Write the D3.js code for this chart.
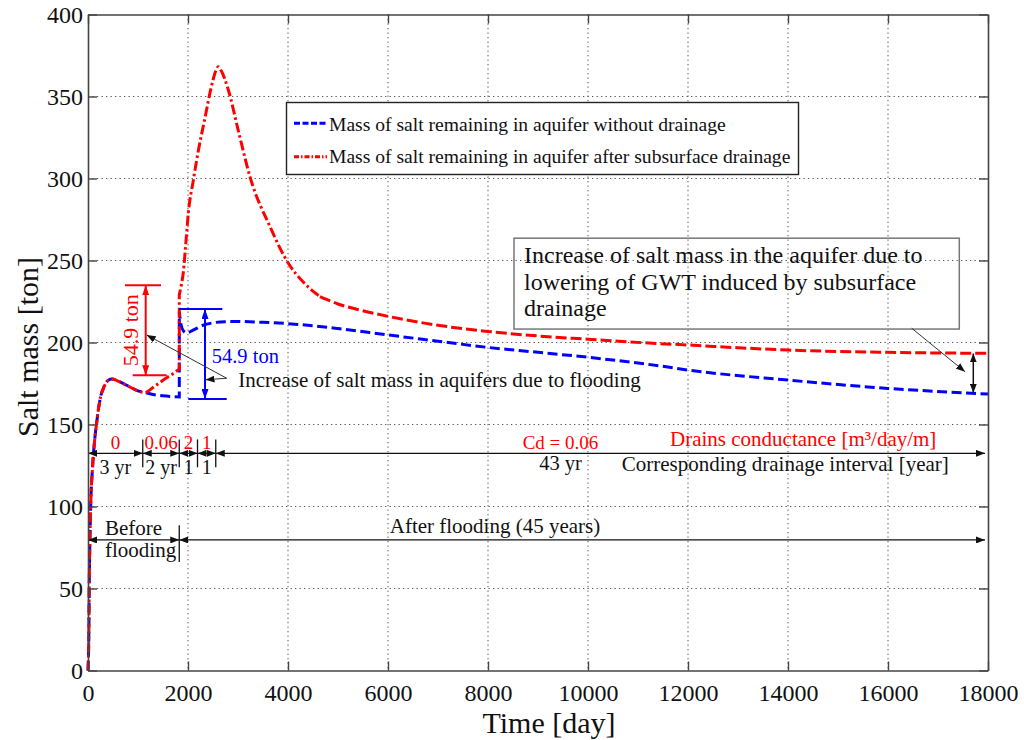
<!DOCTYPE html>
<html>
<head>
<meta charset="utf-8">
<script src="https://cdn.jsdelivr.net/npm/d3@7"></script>
<style>
  body { margin: 0; background: #fff; }
  svg { display: block; }
  text { font-family: 'Liberation Serif', 'Times New Roman', serif; fill: #111; }
</style>
</head>
<body>
<svg id="chart" width="1024" height="740"></svg>
<script>
// ---- data -------------------------------------------------------------
// Salt mass [ton] remaining in the aquifer, without drainage (blue)
const blueDays = [0, 18, 25, 40, 55, 87, 140, 173, 207, 253, 320, 407, 480, 600, 800, 1000, 1140, 1300, 1500, 1700, 1826,
                  1826, 1860, 1910, 1973, 2100, 2300, 2500, 2740, 3000, 3500, 4000, 5000, 6000, 7000, 8000, 9000, 10000,
                  11440, 12000, 14000, 16000, 18000];
const blueMass = [0, 25, 51, 82, 102, 122, 142.6, 151, 159, 167, 173, 177, 177.7, 176.5, 173.5, 170.5, 169.5, 168.3, 167.5, 167, 166.8,
                  218.8, 211, 207, 205.8, 207.5, 210.5, 212, 212.7, 212.8, 212.3, 211.5, 208.5, 204.6, 200.8, 197, 194, 191,
                  185.7, 183.2, 177.1, 172, 168.6];

// Salt mass [ton] remaining in the aquifer after subsurface drainage (red)
const redDays = [0, 18, 25, 40, 55, 87, 140, 173, 207, 253, 320, 407, 480, 600, 800, 1000, 1140, 1300, 1500, 1700, 1826,
                 1826, 1860, 1907, 1960, 2007, 2107, 2207, 2340, 2460, 2560, 2607, 2660, 2807, 3000, 3240, 3640, 4007, 4300, 4640,
                 5000, 5440, 6040, 7000, 8040, 9000, 10000, 11440, 12000, 13000, 14000, 16000, 18000];
const redMass = [0, 25, 51, 82, 102, 122, 142.6, 151, 159, 167, 173, 177, 177.7, 176.5, 173.5, 170.5, 169.5, 172.5, 177, 181, 183.8,
                 229, 234, 243, 262, 279, 299, 317, 337, 355, 366, 368.2, 366, 354, 330, 301, 270.6, 248.3, 237, 228,
                 223.5, 219.8, 215.7, 210.5, 206.6, 204, 202, 199.3, 198.5, 196.8, 195.4, 194, 193.4];
const redDashDotUntil = 4640;

const xTicks = [0, 2000, 4000, 6000, 8000, 10000, 12000, 14000, 16000, 18000];
const yTicks = [0, 50, 100, 150, 200, 250, 300, 350, 400];

// drainage schedule: interval lengths [year] and drain conductance [m3/day/m]
const drainYears = [3, 2, 1, 1, 43];
const drainYearLabels = ['3 yr', '2 yr', '1', '1', '43 yr'];
const drainConductance = ['0', '0.06', '2', '1', 'Cd = 0.06'];
const floodYear = 5;
const increaseTon = 54.9;
const daysPerYear = 365;

// ---- layout -----------------------------------------------------------
const svg = d3.select('#chart');
const plot = { left: 88, top: 14.5, right: 988, bottom: 670.5 };
const x = d3.scaleLinear().domain([0, 18000]).range([plot.left, plot.right]);
const y = d3.scaleLinear().domain([0, 400]).range([plot.bottom, plot.top]);

const RED = '#ff0000', BLUE = '#0000ff', INK = '#111';
const SERIF = "'Liberation Serif','Times New Roman',serif";

const defs = svg.append('defs');
function arrowMarker(id, color, len, wid) {
  defs.append('marker').attr('id', id)
    .attr('viewBox', `0 0 ${len} ${wid}`)
    .attr('refX', len).attr('refY', wid / 2)
    .attr('markerWidth', len).attr('markerHeight', wid)
    .attr('markerUnits', 'userSpaceOnUse')
    .attr('orient', 'auto-start-reverse')
    .append('path').attr('d', `M0,0L${len},${wid / 2}L0,${wid}Z`).attr('fill', color);
}
arrowMarker('ah-black', INK, 9, 7);
arrowMarker('ah-red', RED, 10, 7);
arrowMarker('ah-blue', BLUE, 10, 7);

// ---- grid -------------------------------------------------------------
const grid = svg.append('g')
  .attr('stroke', '#555').attr('stroke-width', 1).attr('stroke-dasharray', '1.3,3.2');
grid.selectAll('.gx').data(xTicks.slice(1, -1)).join('line')
  .attr('x1', d => x(d)).attr('x2', d => x(d)).attr('y1', plot.top).attr('y2', plot.bottom);
grid.selectAll('.gy').data(yTicks.slice(1, -1)).join('line')
  .attr('y1', d => y(d)).attr('y2', d => y(d)).attr('x1', plot.left).attr('x2', plot.right);

// ---- curves -----------------------------------------------------------
// A repeated day marks a vertical jump; each smooth piece is interpolated
// separately and the pieces are joined into one path.
function curvePath(pts) {
  const pieces = [];
  let cur = [pts[0]];
  for (let i = 1; i < pts.length; i++) {
    if (pts[i][0] === pts[i - 1][0]) { pieces.push(cur); cur = [pts[i]]; }
    else cur.push(pts[i]);
  }
  pieces.push(cur);
  const gen = d3.line().x(p => x(p[0])).y(p => y(p[1])).curve(d3.curveMonotoneX);
  return pieces.map((p, i) => {
    const s = p.length > 1 ? gen(p) : `M${x(p[0][0])},${y(p[0][1])}`;
    return i === 0 ? s : 'L' + s.slice(1);
  }).join('');
}
const bluePts = blueDays.map((d, i) => [d, blueMass[i]]);
const redPts = redDays.map((d, i) => [d, redMass[i]]);

const curves = svg.append('g').attr('fill', 'none').attr('stroke-width', 3);
curves.append('path').attr('d', curvePath(bluePts))
  .attr('stroke', BLUE).attr('stroke-dasharray', '10,4.5');
curves.append('path').attr('d', curvePath(redPts.filter(p => p[0] <= redDashDotUntil)))
  .attr('stroke', RED).attr('stroke-dasharray', '10,3,2.5,3');
curves.append('path').attr('d', curvePath(redPts.filter(p => p[0] >= redDashDotUntil)))
  .attr('stroke', RED).attr('stroke-dasharray', '11,4');

// ---- helpers for annotations ------------------------------------------
const ann = svg.append('g');
function seg(t1, v1, t2, v2, color, width, startHead, endHead) {
  const l = ann.append('line')
    .attr('x1', x(t1)).attr('y1', y(v1)).attr('x2', x(t2)).attr('y2', y(v2))
    .attr('stroke', color).attr('stroke-width', width);
  if (startHead) l.attr('marker-start', `url(#${startHead})`);
  if (endHead) l.attr('marker-end', `url(#${endHead})`);
  return l;
}
function label(t, v, str, size, color, anchor) {
  return ann.append('text').attr('x', x(t)).attr('y', y(v))
    .attr('font-size', size).attr('text-anchor', anchor || 'start')
    .style('fill', color || INK).text(str);
}

// ---- 54.9 ton brackets --------------------------------------------------
// red: rise of the drained curve at flooding
const rLow = 180, rHigh = rLow + increaseTon;
seg(740, rHigh, 1460, rHigh, RED, 2);
seg(894, rLow, 1574, rLow, RED, 2);
seg(1154, rLow, 1154, rHigh, RED, 2, 'ah-red', 'ah-red');
ann.append('text')
  .attr('transform', `translate(${x(990)},${y((rLow + rHigh) / 2)}) rotate(-90)`)
  .attr('font-size', 22).attr('text-anchor', 'middle').style('fill', RED).text(increaseTon + ' ton');

// blue: rise of the undrained curve at flooding
const bLow = 165.5, bHigh = bLow + increaseTon;
seg(1820, bHigh, 2686, bHigh, BLUE, 2);
seg(2006, bLow, 2774, bLow, BLUE, 2);
seg(2340, bLow, 2340, bHigh, BLUE, 2, 'ah-blue', 'ah-blue');
label(2474, 187.3, increaseTon + ' ton', 20.5, BLUE);

// leaders for the flooding note
seg(2774, 178.2, 1174, 204.6, '#333', 1, null, 'ah-black');
seg(2774, 178.2, 2350, 177.3, '#333', 1, null, 'ah-black');
label(3006, 172.7, 'Increase of salt mass in aquifers due to flooding', 21);

// ---- drainage schedule row ----------------------------------------------
const rowV = 132.4;
const bounds = [0];
drainYears.forEach(yr => bounds.push(bounds[bounds.length - 1] + yr * daysPerYear));
const lastDay = 17940;
const segs = drainYears.map((yr, i) => ({
  t0: bounds[i], t1: Math.min(bounds[i + 1], lastDay),
  top: drainConductance[i], bottom: drainYearLabels[i]
}));
segs.forEach(s => seg(s.t0, rowV, s.t1, rowV, INK, 1.3, 'ah-black', 'ah-black'));
bounds.slice(1, -1).forEach(b => seg(b, rowV + 8.5, b, rowV - 8.5, INK, 1.3));
segs.slice(0, -1).forEach(s => {
  const mid = (s.t0 + s.t1) / 2;
  label(mid, 135.1, s.top, 19, RED, 'middle');
  label(mid, 120, s.bottom, 20, INK, 'middle');
});
const lastSeg = segs[segs.length - 1];
label(9450, 135, lastSeg.top, 19, RED, 'middle');
label(9450, 122.3, lastSeg.bottom, 20.5, INK, 'middle');
label(11640, 136.9, 'Drains conductance [m³/day/m]', 21, RED);
label(10674, 121.6, 'Corresponding drainage interval [year]', 21);

// ---- flooding row -------------------------------------------------------
const row2V = 79.6;
const floodDay = floodYear * daysPerYear;
seg(0, row2V, floodDay, row2V, INK, 1.3, 'ah-black', 'ah-black');
seg(floodDay, row2V, lastDay, row2V, INK, 1.3, 'ah-black', 'ah-black');
seg(floodDay, row2V + 9, floodDay, row2V - 13.5, INK, 1.3);
label(340, 82.6, 'Before', 21);
label(340, 69, 'flooding', 21);
label(8140, 83.8, 'After flooding (45 years)', 21, INK, 'middle');

// ---- GWT note box -------------------------------------------------------
ann.append('rect')
  .attr('x', x(8520)).attr('y', y(263.6))
  .attr('width', x(17426) - x(8520)).attr('height', y(208.2) - y(263.6))
  .attr('fill', 'none').attr('stroke', '#777').attr('stroke-width', 1.5);
label(8720, 248.3, 'Increase of salt mass in the aquifer due to', 24);
label(8720, 232, 'lowering of GWT induced by subsurface', 24);
label(8720, 216.2, 'drainage', 24);
seg(16474, 208.7, 17540, 182.2, '#333', 1, null, 'ah-black');
seg(17706, 169.3, 17706, 193.3, INK, 1.5, 'ah-black', 'ah-black');

// ---- legend -------------------------------------------------------------
const legend = svg.append('g');
legend.append('rect').attr('x', 286.5).attr('y', 102.5).attr('width', 512).attr('height', 72)
  .attr('fill', '#fff').attr('stroke', '#222').attr('stroke-width', 1.4);
const legendItems = [
  { name: 'Mass of salt remaining in aquifer without drainage', color: BLUE, dash: '6,2.5', cy: 123.3, base: 131 },
  { name: 'Mass of salt remaining in aquifer after subsurface drainage', color: RED, dash: '5,2,1.5,2', cy: 156.7, base: 163.3 }
];
legendItems.forEach(it => {
  legend.append('line').attr('x1', 294).attr('x2', 327).attr('y1', it.cy).attr('y2', it.cy)
    .attr('stroke', it.color).attr('stroke-width', 3).attr('stroke-dasharray', it.dash);
  legend.append('text').attr('x', 329).attr('y', it.base).attr('font-size', 19.6).text(it.name);
});

// ---- axes -------------------------------------------------------------
const axisG = svg.append('g');
const tickLen = 9;
const bottomAxis = d3.axisBottom(x).tickValues(xTicks).tickFormat(d3.format('d'))
  .tickSizeInner(-tickLen).tickSizeOuter(0).tickPadding(13);
const leftAxis = d3.axisLeft(y).tickValues(yTicks).tickFormat(d3.format('d'))
  .tickSizeInner(-tickLen).tickSizeOuter(0).tickPadding(5);
const topAxis = d3.axisTop(x).tickValues(xTicks).tickSizeInner(-tickLen).tickSizeOuter(0).tickFormat('');
const rightAxis = d3.axisRight(y).tickValues(yTicks).tickSizeInner(-tickLen).tickSizeOuter(0).tickFormat('');

function styleAxis(g) {
  g.select('.domain').attr('stroke', '#444').attr('stroke-width', 1.6);
  g.selectAll('.tick line').attr('stroke', '#444').attr('stroke-width', 1.4);
  g.selectAll('.tick text').attr('font-size', 24).attr('font-family', SERIF).style('fill', INK);
}
axisG.append('g').attr('transform', `translate(0,${plot.bottom})`).call(bottomAxis).call(styleAxis);
axisG.append('g').attr('transform', `translate(${plot.left},0)`).call(leftAxis).call(styleAxis);
axisG.append('g').attr('transform', `translate(0,${plot.top})`).call(topAxis).call(styleAxis);
axisG.append('g').attr('transform', `translate(${plot.right},0)`).call(rightAxis).call(styleAxis);

// axis titles
svg.append('text').attr('x', 549).attr('y', 733).attr('text-anchor', 'middle')
  .attr('font-size', 30).text('Time [day]');
svg.append('text').attr('transform', 'translate(38,347) rotate(-90)').attr('text-anchor', 'middle')
  .attr('font-size', 30).text('Salt mass [ton]');
</script>
</body>
</html>
